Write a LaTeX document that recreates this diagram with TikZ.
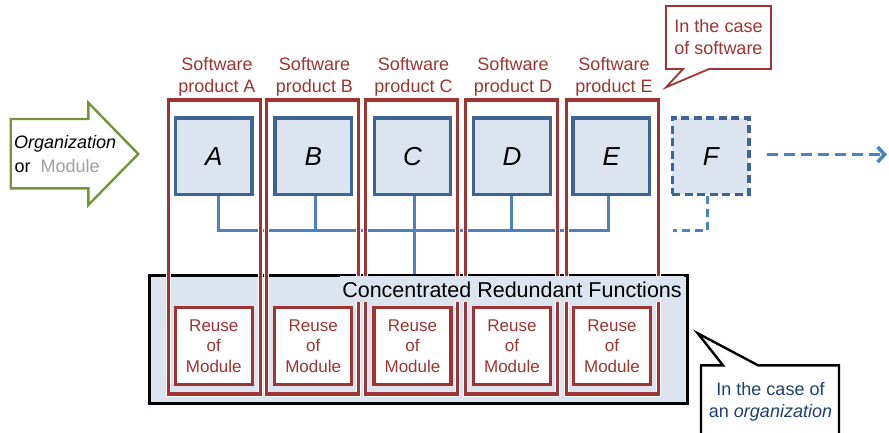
\documentclass[tikz,border=0pt]{standalone}
\usepackage{fontspec}
\setmainfont{Liberation Sans}
\usetikzlibrary{arrows.meta,calc}
\definecolor{frred}{RGB}{158,52,52}
\definecolor{boxbd}{RGB}{60,100,151}
\definecolor{boxfill}{RGB}{220,228,239}
\definecolor{busblue}{RGB}{79,129,189}
\definecolor{arrgreen}{RGB}{119,147,60}
\definecolor{modgray}{RGB}{160,160,160}
\definecolor{noteblue}{RGB}{31,63,111}
\tikzset{
  prodbox/.style={draw=boxbd, fill=boxfill, line width=3.3pt, minimum width=76.5pt,
    minimum height=76.5pt, inner sep=0pt, font=\fontsize{26}{26}\selectfont\itshape},
  futurebox/.style={prodbox, dash pattern=on 8pt off 4.5pt},
  bus/.style={draw=busblue, line width=3pt},
  futurebus/.style={bus, dash pattern=on 8pt off 5pt},
  prodframe/.style={draw=frred, line width=3.1pt, minimum width=92pt, minimum height=294pt,
    inner sep=0pt, preaction={draw=white, line width=5pt}},
  reusebox/.style={draw=frred, fill=white, line width=3.1pt, minimum width=77pt,
    minimum height=77pt, inner sep=0pt, align=center, text=frred,
    font=\fontsize{17}{20.3}\selectfont},
  prodlabel/.style={align=center, text=frred, inner sep=0pt, font=\fontsize{18}{22}\selectfont},
  funcbox/.style={draw=black, fill=boxfill, line width=3.2pt, minimum width=538pt,
    minimum height=128pt, inner sep=0pt},
  notetext/.style={align=center, inner sep=0pt, font=\fontsize{18}{22}\selectfont},
}
\begin{document}
\begin{tikzpicture}[x=1pt, y=-1pt]
\useasboundingbox (0,0) rectangle (889,433);
\clip (0,0) rectangle (889,433);

% incoming arrow: organization or module
\draw[draw=arrgreen, fill=white, line width=2.4pt, line join=miter]
  (10.7,119) -- (88.3,119) -- (88.3,102.7) -- (138.3,154) -- (88.3,205)
  -- (88.3,188.3) -- (10.7,188.3) -- cycle;
\node[anchor=base west, inner sep=0pt, font=\fontsize{18}{22}\selectfont\itshape]
  (org) at (14,149) {Organization};
\node[anchor=base west, inner sep=0pt, font=\fontsize{18}{22}\selectfont]
  (or) at (14.5,172.5) {or\hspace{10pt}\textcolor{modgray}{Module}};

% pool of concentrated redundant functions
\node[funcbox] (G) at (418.8,339.5) {};

% software products
\node[prodbox] (A) at (213.8,156.2) {A};
\node[prodbox] (B) at (313.2,156.2) {B};
\node[prodbox] (C) at (412.5,156.2) {C};
\node[prodbox] (D) at (512.0,156.2) {D};
\node[prodbox] (E) at (611.3,156.2) {E};
\node[futurebox] (F) at (710.7,156.2) {F};

% common bus between products
\coordinate (busA) at (218.5,230.5);
\coordinate (busB) at (315.5,230.5);
\coordinate (busC) at (414.5,230.5);
\coordinate (busD) at (511.5,230.5);
\coordinate (busE) at (608.5,230.5);
\coordinate (busF) at (707.5,230.5);
\coordinate (busFend) at (673.0,230.5);
\draw[bus, line join=miter] (busA |- A.south) -- (busA) -- (busE) -- (busE |- E.south);
\draw[bus] (busB |- B.south) -- (busB);
\draw[bus] (busD |- D.south) -- (busD);
\draw[bus] (busC |- C.south) -- (busC |- G.north);
\draw[futurebus, line join=miter] (busF |- F.south) -- (busF) -- (busFend);

% continuation towards further products
\coordinate (contS) at (767,154.5);
\coordinate (contE) at (887,154.5);
\draw[busblue, line width=3.5pt, dash pattern=on 11pt off 6pt,
  -{Straight Barb[length=7pt, width=15pt, line width=3.5pt]}] (contS) -- (contE);

% product frames
\node[prodframe] (frA) at (214.5,247) {};
\node[prodframe] (frB) at (312.8,247) {};
\node[prodframe] (frC) at (411.2,247) {};
\node[prodframe] (frD) at (511.5,247) {};
\node[prodframe] (frE) at (612.2,247) {};

\node[prodlabel] (lA) at (217.0,76.5) {Software\\product A};
\node[prodlabel] (lB) at (314.5,76.5) {Software\\product B};
\node[prodlabel] (lC) at (413.5,76.5) {Software\\product C};
\node[prodlabel] (lD) at (513.0,76.5) {Software\\product D};
\node[prodlabel] (lE) at (614.0,76.5) {Software\\product E};

% reused modules
\node[reusebox] (rA) at (213.8,346) {Reuse\\of\\Module};
\node[reusebox] (rB) at (313.2,346) {Reuse\\of\\Module};
\node[reusebox] (rC) at (412.5,346) {Reuse\\of\\Module};
\node[reusebox] (rD) at (512.0,346) {Reuse\\of\\Module};
\node[reusebox] (rE) at (612.0,346) {Reuse\\of\\Module};

\node[anchor=base, fill=boxfill, inner xsep=2pt, inner ysep=5pt,
  font=\fontsize{21.5}{21.5}\selectfont] (ftitle) at (512,297) {Concentrated Redundant Functions};

% note: software
\draw[draw=frred, fill=white, line width=1.8pt, line join=miter]
  (666,6) -- (771,6) -- (771,69) -- (709,69) -- (666,87.3) -- (683,69) -- (666,69) -- cycle;
\node[notetext, text=frred] (nsw) at (718.5,37.5) {In the case\\of software};

% note: organization
\draw[draw=black, fill=white, line width=2.4pt, line join=miter]
  (701,365.3) -- (723,365.3) -- (697.7,333.3) -- (758,365.3) -- (839,365.3)
  -- (839,450) -- (701,450) -- cycle;
\node[notetext, text=noteblue] (norg) at (770.5,401.5) {In the case of\\an \textit{organization}};
\end{tikzpicture}
\end{document}
